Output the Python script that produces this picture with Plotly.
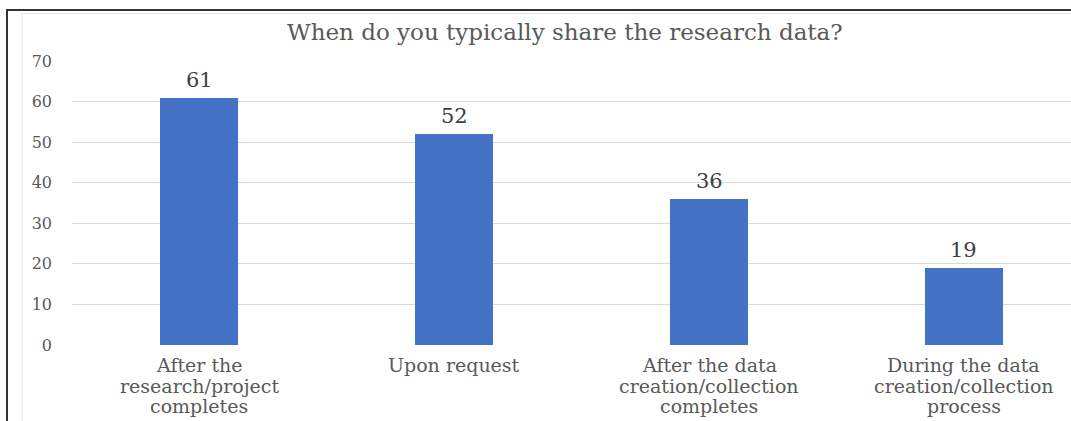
import plotly.graph_objects as go

categories = [
    "After the<br>research/project<br>completes",
    "Upon request",
    "After the data<br>creation/collection<br>completes",
    "During the data<br>creation/collection<br>process",
]
counts = [61, 52, 36, 19]
y_ticks = [0, 10, 20, 30, 40, 50, 60, 70]

W, H = 1071, 421
L, R, T, B = 72, 0, 61, 76
plot_w = W - L - R
plot_h = H - T - B


def px_x(p):
    return (p - L) / plot_w


def px_y(p):
    return (H - B - p) / plot_h


SERIF = "DejaVu Serif, serif"
LABEL_FIRST_LINE = 365   # pixel row of the first category-label line
LABEL_LINE_STEP = 20.5   # tight line spacing for category labels

fig = go.Figure(
    go.Bar(
        x=list(range(len(categories))),
        y=counts,
        width=0.306,
        marker=dict(color="#4472C4", line=dict(width=0)),
        hoverinfo="y",
    )
)

# value labels centred a fixed distance above each bar top
value_annotations = [
    dict(
        text=str(v),
        xref="x",
        yref="y",
        x=i,
        y=v,
        yshift=18,
        xanchor="center",
        yanchor="middle",
        showarrow=False,
        font=dict(family=SERIF, size=21, color="#404040"),
    )
    for i, v in enumerate(counts)
]

# category labels, one annotation per line so the leading stays tight
label_annotations = []
for i, cat in enumerate(categories):
    for j, line in enumerate(cat.split("<br>")):
        label_annotations.append(dict(
            text=line,
            xref="x",
            yref="paper",
            x=i,
            y=px_y(LABEL_FIRST_LINE + j * LABEL_LINE_STEP),
            xanchor="center",
            yanchor="middle",
            showarrow=False,
            font=dict(family=SERIF, size=19, color="#595959"),
        ))

fig.update_layout(
    width=W,
    height=H,
    margin=dict(l=L, r=R, t=T, b=B),
    paper_bgcolor="white",
    plot_bgcolor="white",
    showlegend=False,
    bargap=0,
    font=dict(family=SERIF, color="#595959"),
    xaxis=dict(
        tickmode="array",
        tickvals=list(range(len(categories))),
        ticktext=categories,
        range=[-0.5, 3.42],
        showgrid=False,
        zeroline=False,
        showline=False,
        ticks="",
        showticklabels=False,
    ),
    yaxis=dict(
        range=[0, 70],
        tickvals=y_ticks,
        showgrid=True,
        gridcolor="#d9d9d9",
        gridwidth=1,
        zeroline=False,
        showline=False,
        ticks="",
        ticklabelstandoff=19,
        tickfont=dict(family=SERIF, size=16, color="#595959"),
    ),
    annotations=[
        dict(
            text="When do you typically share the research data?",
            xref="paper",
            yref="paper",
            x=px_x(565),
            y=px_y(32),
            xanchor="center",
            yanchor="middle",
            showarrow=False,
            font=dict(family=SERIF, size=23, color="#595959"),
        )
    ] + value_annotations + label_annotations,
    shapes=[
        # light inner frame of the chart area
        dict(type="line", xref="paper", yref="paper",
             x0=px_x(22), x1=px_x(22), y0=px_y(13), y1=px_y(425),
             line=dict(color="#e3e3e3", width=1)),
        dict(type="line", xref="paper", yref="paper",
             x0=px_x(22), x1=px_x(1075), y0=px_y(13.5), y1=px_y(13.5),
             line=dict(color="#e3e3e3", width=1)),
        # dark outer frame
        dict(type="line", xref="paper", yref="paper",
             x0=px_x(7), x1=px_x(7), y0=px_y(10), y1=px_y(425),
             line=dict(color="#333333", width=2)),
        dict(type="line", xref="paper", yref="paper",
             x0=px_x(6), x1=px_x(1075), y0=px_y(10), y1=px_y(10),
             line=dict(color="#333333", width=2)),
    ],
)

fig.write_html("out.html")
